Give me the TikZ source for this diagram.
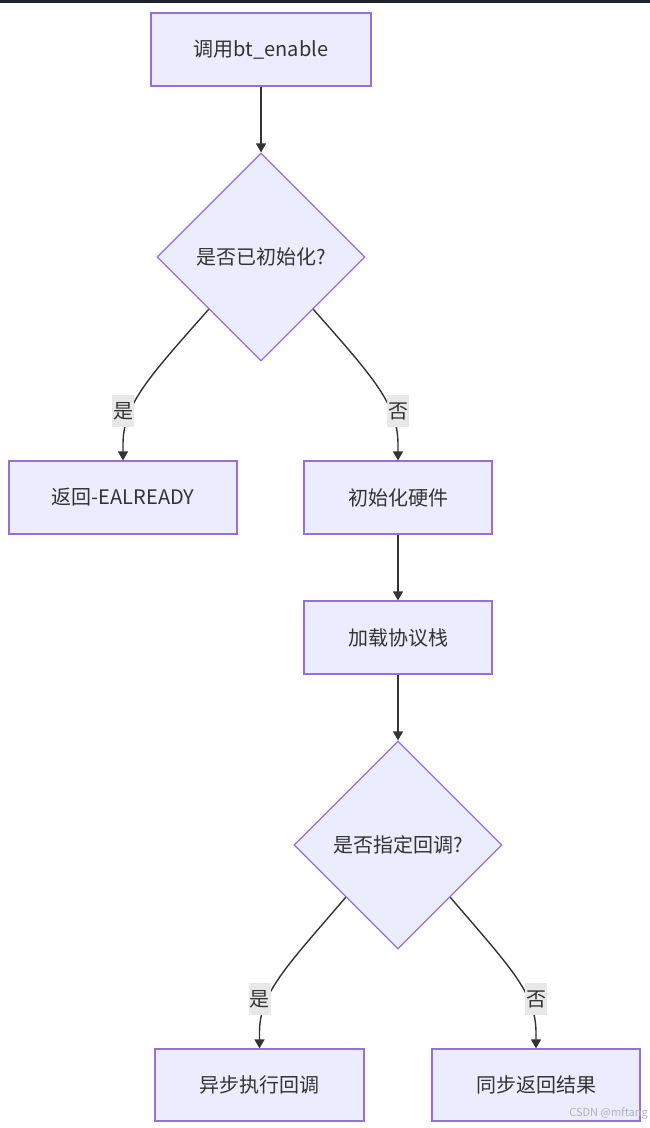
\documentclass[tikz,border=0pt]{standalone}
\usepackage{fontspec}
\setmainfont{Noto Sans CJK SC}
\usetikzlibrary{shapes.geometric,arrows.meta,calc}
\definecolor{nodefill}{HTML}{ECECFF}
\definecolor{nodeline}{HTML}{9370DB}
\definecolor{edgecol}{HTML}{333333}
\definecolor{lblfill}{HTML}{E8E8E8}
\definecolor{topbar}{HTML}{1E232B}
\tikzset{
  proc/.style={draw=nodeline, fill=nodefill, line width=1.2pt, inner sep=0pt,
    text=edgecol, font=\fontsize{20}{24}\selectfont},
  decide/.style={diamond, aspect=1, draw=nodeline, fill=nodefill, line width=1.2pt,
    inner sep=0pt, minimum width=208pt, minimum height=208pt,
    text=edgecol, font=\fontsize{20}{24}\selectfont},
  arr/.style={draw=edgecol, line width=1.4pt, -{Triangle[length=9pt,width=10pt]}},
  lbl/.style={fill=lblfill, inner sep=0pt, minimum width=22pt, minimum height=32pt,
    text=edgecol, font=\fontsize{20}{24}\selectfont},
  wmark/.style={text=black!30, font=\fontsize{11}{13}\selectfont, inner sep=0pt}
}
\begin{document}
\begin{tikzpicture}[x=1pt,y=-1pt]
\useasboundingbox (0,0) rectangle (650,1128);
\fill[white] (0,0) rectangle (650,1128);
\fill[topbar] (0,0) rectangle (650,3);

\node[proc, minimum width=220pt, minimum height=73pt] (b1) at (261,49.5) {调用bt\_enable};
\node[decide] (d1) at (261,257) {是否已初始化?};
\node[proc, minimum width=228pt, minimum height=73pt] (ea) at (123,497.5) {返回-EALREADY};
\node[proc, minimum width=188pt, minimum height=73pt] (hw) at (398,497.5) {初始化硬件};
\node[proc, minimum width=188pt, minimum height=73pt] (st) at (398,637.5) {加载协议栈};
\node[decide] (d2) at (398,845) {是否指定回调?};
\node[proc, minimum width=209pt, minimum height=72pt] (as) at (259.5,1085) {异步执行回调};
\node[proc, minimum width=208pt, minimum height=72pt] (sy) at (536,1085) {同步返回结果};

\draw[arr] (b1.south) -- (d1.north);
\draw[arr] (d1.south west) .. controls +(-60,68) and +(0,-40) .. ($(ea.north)+(0,-16)$) -- (ea.north);
\draw[arr] (d1.south east) .. controls +(60,68) and +(0,-40) .. ($(hw.north)+(0,-16)$) -- (hw.north);
\draw[arr] (hw.south) -- (st.north);
\draw[arr] (st.south) -- (d2.north);
\draw[arr] (d2.south west) .. controls +(-58,68) and +(0,-40) .. ($(as.north)+(0,-16)$) -- (as.north);
\draw[arr] (d2.south east) .. controls +(58,68) and +(0,-40) .. ($(sy.north)+(0,-16)$) -- (sy.north);

\node[lbl] (l1) at ($(ea.north)+(0,-49)$) {是};
\node[lbl] (l2) at ($(hw.north)+(0,-49)$) {否};
\node[lbl] (l3) at ($(as.north)+(0,-49)$) {是};
\node[lbl] (l4) at ($(sy.north)+(0,-49)$) {否};

\node[wmark, anchor=east] (wm) at (648,1113) {CSDN @mftang};
\end{tikzpicture}
\end{document}
